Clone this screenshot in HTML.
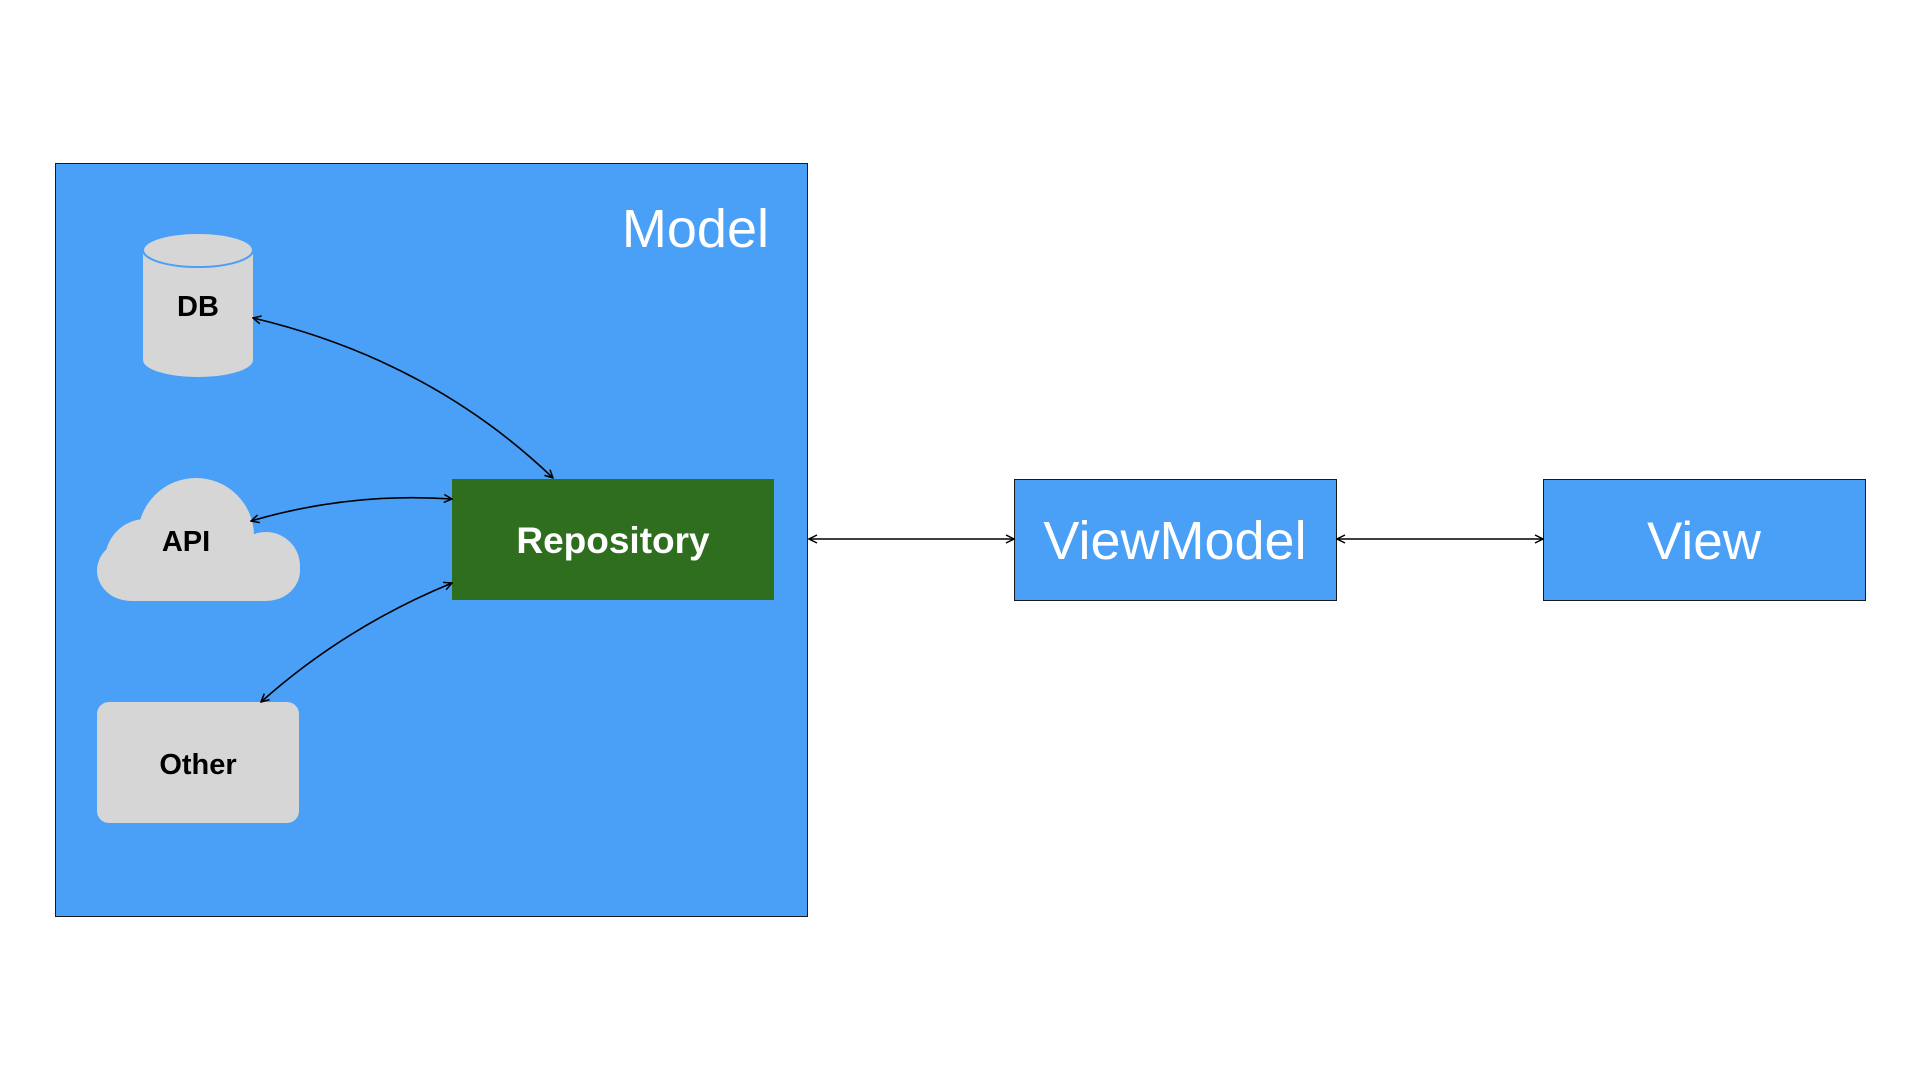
<!DOCTYPE html>
<html><head><meta charset="utf-8"><style>
html,body{margin:0;padding:0;background:#fff;}
body{width:1920px;height:1080px;position:relative;overflow:hidden;font-family:"Liberation Sans",sans-serif;}
</style></head><body>
<svg width="1920" height="1080" viewBox="0 0 1920 1080" xmlns="http://www.w3.org/2000/svg" style="position:absolute;left:0;top:0">
<defs>
<marker id="a" viewBox="0 0 10 10" refX="9" refY="5" markerWidth="10" markerHeight="10" orient="auto-start-reverse" markerUnits="userSpaceOnUse">
<path d="M1,1 L9,5 L1,9" fill="none" stroke="#000" stroke-width="1.5"/>
</marker>
</defs>
<rect x="55.5" y="163.5" width="752" height="753" fill="#4a9ff7" stroke="#1a1a1a" stroke-width="1"/>
<text x="769" y="247" text-anchor="end" font-size="54" fill="#fff" font-family="Liberation Sans, sans-serif">Model</text>
<path d="M143,250 L143,360 A55,17 0 0 0 253,360 L253,250 Z" fill="#d6d6d6"/>
<ellipse cx="198" cy="250" rx="55" ry="17" fill="#d6d6d6" stroke="#4a9ff7" stroke-width="2"/>
<text x="198" y="316" text-anchor="middle" font-size="29" font-weight="bold" fill="#000">DB</text>
<g fill="#d6d6d6">
<circle cx="196" cy="536" r="58"/>
<circle cx="146" cy="560" r="41"/>
<circle cx="266" cy="566" r="34"/>
<rect x="97" y="540" width="203" height="61" rx="34"/>
</g>
<text x="186" y="551" text-anchor="middle" font-size="29" font-weight="bold" fill="#000">API</text>
<rect x="97" y="702" width="202" height="121" rx="12" fill="#d6d6d6"/>
<text x="198" y="774" text-anchor="middle" font-size="29" font-weight="bold" fill="#000">Other</text>
<rect x="452" y="479" width="322" height="121" fill="#2f6e1f"/>
<text x="613" y="553" text-anchor="middle" font-size="37" font-weight="bold" fill="#fff">Repository</text>
<rect x="1014.5" y="479.5" width="322" height="121" fill="#4a9ff7" stroke="#1a1a1a" stroke-width="1"/>
<text x="1175" y="559" text-anchor="middle" font-size="54" fill="#fff">ViewModel</text>
<rect x="1543.5" y="479.5" width="322" height="121" fill="#4a9ff7" stroke="#1a1a1a" stroke-width="1"/>
<text x="1704" y="559" text-anchor="middle" font-size="53" fill="#fff">View</text>
<g fill="none" stroke="#000" stroke-width="1.6" marker-start="url(#a)" marker-end="url(#a)">
<path d="M253,318 Q430,360 553,478"/>
<path d="M251,521 Q350,492 452,499"/>
<path d="M261,702 Q345,627 452,583"/>
<line x1="809" y1="539" x2="1014" y2="539"/>
<line x1="1337" y1="539" x2="1543" y2="539"/>
</g>
</svg>
</body></html>
